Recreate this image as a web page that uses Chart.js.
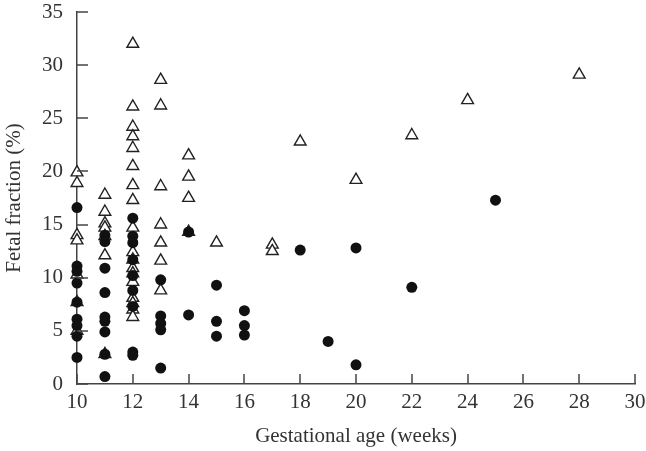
<!DOCTYPE html>
<html>
<head>
<meta charset="utf-8">
<script src="https://cdn.jsdelivr.net/npm/chart.js@4"></script>
<style>
  html, body { margin: 0; padding: 0; background: #fff; }
  #wrap { width: 646px; height: 451px; }
</style>
</head>
<body>
<div id="wrap"><canvas id="chart"></canvas></div>
<script>
/* Data: gestational age (weeks) vs fetal fraction (%) */

// filled circles
const circleWeeks = [
  10, 10, 10, 10, 10, 10, 10, 10, 10,
  11, 11, 11, 11, 11, 11, 11, 11, 11,
  12, 12, 12, 12, 12, 12, 12, 12, 12,
  13, 13, 13, 13, 13,
  14, 14,
  15, 15, 15,
  16, 16, 16,
  18, 19, 20, 20, 22, 25
]
const circleFraction = [
  16.6, 11.1, 10.6, 9.5, 7.7, 6.1, 5.5, 4.5, 2.5,
  14.0, 13.4, 10.9, 8.6, 6.3, 5.9, 4.9, 2.8, 0.7,
  15.6, 13.9, 13.3, 11.7, 10.2, 8.8, 7.3, 3.0, 2.7,
  9.8, 6.4, 5.7, 5.1, 1.5,
  14.3, 6.5,
  9.3, 5.9, 4.5,
  6.9, 5.5, 4.6,
  12.6, 4.0, 12.8, 1.8, 9.1, 17.3
]

// open triangles
const triangleWeeks = [
  10, 10, 10, 10, 10, 10, 10,
  11, 11, 11, 11, 11, 11, 11,
  12, 12, 12, 12, 12, 12, 12, 12, 12, 12, 12, 12, 12, 12, 12, 12, 12, 12,
  13, 13, 13, 13, 13, 13, 13,
  14, 14, 14, 14,
  15, 17, 17, 18, 20, 22, 24, 28
]
const triangleFraction = [
  19.9, 18.9, 14.0, 13.5, 10.3, 7.7, 5.0,
  17.8, 16.2, 15.1, 14.7, 13.9, 12.1, 2.8,
  32.0, 26.1, 24.2, 23.3, 22.2, 20.5, 18.7, 17.3, 14.7, 12.4, 11.7, 10.9, 10.4, 9.6, 8.1, 7.6, 7.0, 6.3,
  28.6, 26.2, 18.6, 15.0, 13.3, 11.6, 8.8,
  21.5, 19.5, 17.5, 14.3,
  13.3, 13.1, 12.5, 22.8, 19.2, 23.4, 26.7, 29.1
]

const xTicks = [10, 12, 14, 16, 18, 20, 22, 24, 26, 28, 30]
const yTicks = [0, 5, 10, 15, 20, 25, 30, 35]

const textColor = '#333'
const axisColor = '#444'
const serif = "'Liberation Serif', 'DejaVu Serif', serif"

function toPoints(xs, ys) {
  return xs.map((x, i) => ({ x: x, y: ys[i] }))
}

// short tick marks pointing into the plot, like the printed figure
const innerTicks = {
  id: 'innerTicks',
  afterDraw(chart) {
    const ctx = chart.ctx
    const xs = chart.scales.x
    const ys = chart.scales.y
    const area = chart.chartArea
    ctx.save()
    ctx.strokeStyle = axisColor
    ctx.lineWidth = 1.5
    ctx.beginPath()
    xTicks.forEach(v => {
      const px = Math.round(xs.getPixelForValue(v))
      ctx.moveTo(px, area.bottom)
      ctx.lineTo(px, area.bottom - 10)
    })
    yTicks.forEach(v => {
      const py = Math.round(ys.getPixelForValue(v))
      ctx.moveTo(area.left, py)
      ctx.lineTo(area.left + 11, py)
    })
    ctx.stroke()
    ctx.restore()
  }
}

new Chart(document.getElementById('chart'), {
  type: 'scatter',
  data: {
    datasets: [{
      label: 'circles',
      data: toPoints(circleWeeks, circleFraction),
      pointStyle: 'circle',
      pointRadius: 5.5,
      backgroundColor: '#111',
      borderColor: '#111',
      borderWidth: 0,
      clip: false
    }, {
      label: 'triangles',
      data: toPoints(triangleWeeks, triangleFraction),
      pointStyle: 'triangle',
      pointRadius: 6.8,
      backgroundColor: '#fff',
      borderColor: '#222',
      borderWidth: 1.4,
      clip: false
    }]
  },
  options: {
    responsive: true,
    maintainAspectRatio: false,
    animation: false,
    layout: { padding: { top: 12, right: 11, left: 0, bottom: 0 } },
    plugins: {
      legend: { display: false },
      tooltip: { enabled: false }
    },
    scales: {
      x: {
        type: 'linear',
        min: 10,
        max: 30,
        afterFit: s => {
          s.height = 67
          s.paddingLeft = 0
          s.paddingRight = 0
        },
        afterBuildTicks: s => { s.ticks = xTicks.map(v => ({ value: v })) },
        grid: { drawOnChartArea: false, drawTicks: false },
        border: { display: true, color: axisColor, width: 1.5 },
        ticks: { color: textColor, padding: 6, font: { family: serif, size: 21 } },
        title: {
          display: true,
          text: 'Gestational age (weeks)',
          color: textColor,
          padding: { top: 0, bottom: 2 },
          font: { family: serif, size: 21 }
        }
      },
      y: {
        type: 'linear',
        min: 0,
        max: 35,
        afterFit: s => {
          s.width = 77
          s.paddingTop = 0
          s.paddingBottom = 0
        },
        afterBuildTicks: s => { s.ticks = yTicks.map(v => ({ value: v })) },
        grid: { drawOnChartArea: false, drawTicks: false },
        border: { display: true, color: axisColor, width: 1.5 },
        ticks: { color: textColor, padding: 14, font: { family: serif, size: 21 } },
        title: {
          display: true,
          text: 'Fetal fraction (%)',
          color: textColor,
          padding: { top: 2, bottom: 0 },
          font: { family: serif, size: 21 }
        }
      }
    }
  },
  plugins: [innerTicks]
})
</script>
</body>
</html>
